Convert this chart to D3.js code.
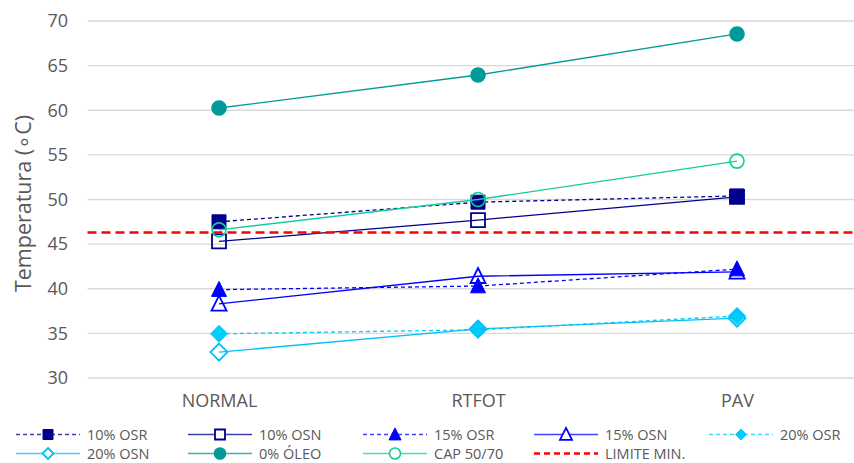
<!DOCTYPE html>
<html>
<head>
<meta charset="utf-8">
<script src="https://cdn.jsdelivr.net/npm/d3@7"></script>
<style>
  html, body { margin: 0; padding: 0; background: #fff; }
  svg { display: block; font-family: "Open Sans", "Noto Sans", sans-serif; }
</style>
</head>
<body>
<svg id="chart" width="854" height="463"></svg>
<script>
// Categories (aging stage) and temperature per binder
const categories = ["NORMAL", "RTFOT", "PAV"];
const yTicks = [30, 35, 40, 45, 50, 55, 60, 65, 70];

const osr10 = [47.5, 49.7, 50.4];
const osn10 = [45.3, 47.7, 50.3];
const osr15 = [39.9, 40.3, 42.2];
const osn15 = [38.3, 41.4, 41.9];
const osr20 = [34.95, 35.4, 36.95];
const osn20 = [32.9, 35.5, 36.7];
const oleo0 = [60.25, 63.95, 68.55];
const cap5070 = [46.6, 50.0, 54.3];
const limiteMin = 46.3;

const series = [
  { name: "10% OSR", values: osr10, color: "#00008C", dash: "4 3", marker: "square", filled: true },
  { name: "10% OSN", values: osn10, color: "#00008C", dash: null, marker: "square", filled: false },
  { name: "15% OSR", values: osr15, color: "#0000FF", dash: "4 3", marker: "triangle", filled: true },
  { name: "15% OSN", values: osn15, color: "#0000FF", dash: null, marker: "triangle", filled: false },
  { name: "20% OSR", values: osr20, color: "#00CCFF", dash: "4 3", marker: "diamond", filled: true },
  { name: "20% OSN", values: osn20, color: "#00C0F8", dash: null, marker: "diamond", filled: false },
  { name: "0% ÓLEO", values: oleo0, color: "#009A98", dash: null, marker: "circle", filled: true },
  { name: "CAP 50/70", values: cap5070, color: "#14CC98", dash: null, marker: "circle", filled: false }
];

const svg = d3.select("#chart");
const plot = { left: 89.5, right: 866.5, top: 21, bottom: 378 };

const x = d3.scalePoint().domain(categories).range([plot.left, plot.right]).padding(0.5);
const y = d3.scaleLinear().domain([30, 70]).range([plot.bottom, plot.top]);

// Gridlines
svg.append("g")
  .selectAll("line").data(yTicks).join("line")
  .attr("x1", plot.left - 2).attr("x2", 854)
  .attr("y1", d => y(d)).attr("y2", d => y(d))
  .attr("stroke", "#D9D9D9").attr("stroke-width", 1.3);

// Y axis labels
const yAxis = d3.axisLeft(y).tickValues(yTicks).tickSize(0).tickPadding(0);
const gy = svg.append("g").attr("transform", `translate(${68},0)`).call(yAxis);
gy.select(".domain").remove();
gy.selectAll("text").attr("fill", "#595959").style("font-size", "18px")
  .style("font-family", "'Open Sans', sans-serif");

// X axis labels
const xAxis = d3.axisBottom(x).tickSize(0).tickPadding(0);
const gx = svg.append("g").attr("transform", `translate(0,${394})`).call(xAxis);
gx.select(".domain").remove();
gx.selectAll("text").attr("fill", "#595959").style("font-size", "18px")
  .style("font-family", "'Open Sans', sans-serif");

// Axis title
svg.append("text")
  .attr("transform", `translate(${30.5},${203.5}) rotate(-90)`)
  .attr("text-anchor", "middle")
  .attr("fill", "#595959")
  .style("font-size", "21.5px")
  .text("Temperatura (∘C)");

// Marker shapes
function markerPath(type, s) {
  const h = s / 2;
  if (type === "square") return `M${-h},${-h}H${h}V${h}H${-h}Z`;
  if (type === "triangle") return `M0,${-h * 1.1}L${h},${h * 0.9}L${-h},${h * 0.9}Z`;
  if (type === "diamond") return `M0,${-h}L${h},0L0,${h}L${-h},0Z`;
  return null;
}
const markerSize = { square: 14, triangle: 15, diamond: 17, circle: 7 };
const legendSize = { square: 10, triangle: 12, diamond: 11, circle: 5.5 };

function drawMarker(g, type, color, filled, cx, cy, sizes, fillHollow) {
  const fill = filled ? color : fillHollow;
  if (type === "circle") {
    g.append("circle").attr("cx", cx).attr("cy", cy).attr("r", sizes.circle)
      .attr("fill", fill).attr("stroke", color).attr("stroke-width", 1.6);
  } else {
    g.append("path").attr("d", markerPath(type, sizes[type]))
      .attr("transform", `translate(${cx},${cy})`)
      .attr("fill", fill).attr("stroke", color).attr("stroke-width", filled ? 1 : 1.8)
      .attr("stroke-linejoin", "miter");
  }
}

const line = d3.line().x((d, i) => x(categories[i])).y(d => y(d));

// Series: line then markers, in series order
series.forEach(s => {
  const g = svg.append("g");
  g.append("path").datum(s.values).attr("d", line)
    .attr("fill", "none").attr("stroke", s.color).attr("stroke-width", 1.3)
    .attr("stroke-dasharray", s.dash);
  s.values.forEach((v, i) => drawMarker(g, s.marker, s.color, s.filled, x(categories[i]), y(v), markerSize, "none"));
});

// Minimum limit line
svg.append("line")
  .attr("x1", plot.left - 2).attr("x2", 854)
  .attr("y1", y(limiteMin)).attr("y2", y(limiteMin))
  .attr("stroke", "#FF0000").attr("stroke-width", 2.6)
  .attr("stroke-dasharray", "9 5");

// Legend
const legendItems = series.map(s => ({ ...s })).concat([
  { name: "LIMITE MIN.", color: "#FF0000", dash: "6 4", marker: null, filled: true, limit: true }
]);
const legX = [16, 188, 363, 534, 709];
const legY = [434.5, 453.5];
legendItems.forEach((d, i) => {
  const col = i % 5, row = Math.floor(i / 5);
  const x0 = legX[col], yy = legY[row];
  const g = svg.append("g");
  g.append("line").attr("x1", x0).attr("x2", x0 + 64).attr("y1", yy).attr("y2", yy)
    .attr("stroke", d.color).attr("stroke-width", d.limit ? 2.6 : 1.5)
    .attr("stroke-dasharray", d.dash).attr("stroke-opacity", d.limit ? 1 : 0.75);
  if (d.marker) drawMarker(g, d.marker, d.color, d.filled, x0 + 32, yy, legendSize, "#fff");
  g.append("text").attr("x", x0 + 71).attr("y", yy).attr("dy", "0.35em")
    .attr("fill", "#595959").style("font-size", "14.5px").text(d.name);
});
</script>
</body>
</html>
